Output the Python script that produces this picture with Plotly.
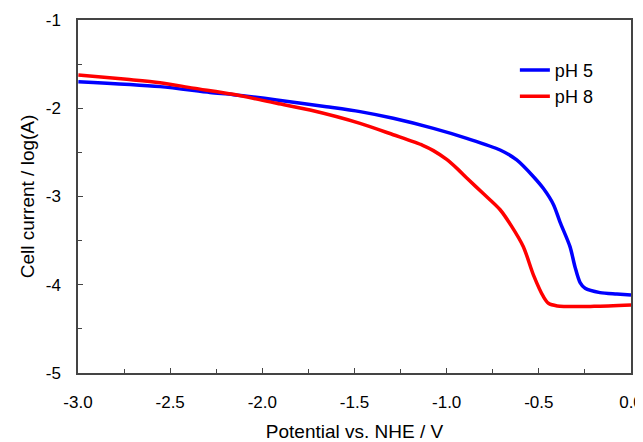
import plotly.graph_objects as go

ph5_x = [-2.998, -2.555, -2.284, -2.158, -1.922, -1.652, -1.470, -1.290, -1.072, -0.891,
         -0.710, -0.620, -0.529, -0.475, -0.421, -0.385, -0.331, -0.304, -0.276, -0.249,
         -0.168, -0.077, 0.0]
ph5_y = [-1.699, -1.755, -1.822, -1.846, -1.906, -1.982, -2.038, -2.114, -2.228, -2.341,
         -2.473, -2.586, -2.776, -2.910, -3.090, -3.290, -3.568, -3.795, -3.975, -4.040,
         -4.089, -4.105, -4.116]

ph8_x = [-2.998, -2.736, -2.555, -2.374, -2.158, -1.922, -1.741, -1.470, -1.290, -1.130,
         -1.072, -1.000, -0.940, -0.891, -0.800, -0.710, -0.650, -0.584, -0.529, -0.475,
         -0.448, -0.400, -0.200, 0.0]
ph8_y = [-1.623, -1.672, -1.710, -1.772, -1.842, -1.944, -2.020, -2.171, -2.300, -2.420,
         -2.480, -2.580, -2.690, -2.790, -2.970, -3.150, -3.330, -3.569, -3.890, -4.135,
         -4.210, -4.240, -4.245, -4.230]

x_ticks = [-3.0, -2.5, -2.0, -1.5, -1.0, -0.5, 0.0]
x_labels = ["-3.0", "-2.5", "-2.0", "-1.5", "-1.0", "-0.5", "0.0"]
y_ticks = [-5, -4, -3, -2, -1]
y_labels = ["-5", "-4", "-3", "-2", "-1"]

fig = go.Figure()
fig.add_trace(go.Scatter(x=ph5_x, y=ph5_y, mode="lines", name="pH 5",
                         line=dict(color="#0000FF", width=3.5, shape="spline", smoothing=0.8)))
fig.add_trace(go.Scatter(x=ph8_x, y=ph8_y, mode="lines", name="pH 8",
                         line=dict(color="#FF0000", width=3.5, shape="spline", smoothing=0.8)))

axis_common = dict(showgrid=False, zeroline=False, showline=True, linecolor="#444444",
                   linewidth=1.5, mirror=True, ticks="inside", ticklen=5, tickwidth=1,
                   tickcolor="#444444", tickfont=dict(size=17, color="#000000"),
                   automargin=False)

# The page body has an 8px margin, so the figure is sized to fit the window.
fig.update_layout(
    width=635, height=434,
    margin=dict(l=70, r=12, t=12, b=69),
    paper_bgcolor="white", plot_bgcolor="white",
    font=dict(family="Liberation Sans, Arial, sans-serif", size=17, color="#000000"),
    showlegend=True,
    legend=dict(x=0.79, y=0.91, xanchor="left", yanchor="top", bgcolor="rgba(0,0,0,0)",
                font=dict(size=18)),
    xaxis=dict(range=[-3.0, 0.0], tickvals=x_ticks, ticktext=x_labels, ticklabelstandoff=13,
               minor=dict(ticks="inside", dtick=0.25, ticklen=4, tickcolor="#444444"),
               title=dict(text="Potential vs. NHE / V", font=dict(size=19), standoff=14),
               **axis_common),
    yaxis=dict(range=[-5, -1], tickvals=y_ticks, ticktext=y_labels, ticklabelstandoff=12,
               minor=dict(ticks="inside", dtick=0.5, ticklen=4, tickcolor="#444444"),
               title=dict(text="Cell current / log(A)", font=dict(size=19), standoff=6),
               **axis_common),
)

fig.write_html("out.html")
